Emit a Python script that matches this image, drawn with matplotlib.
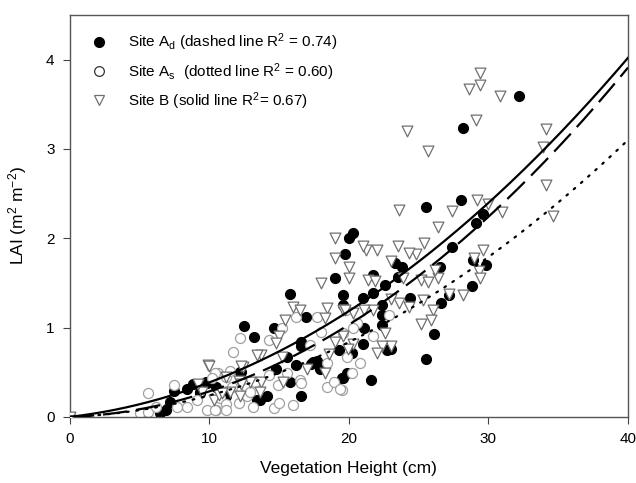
import numpy as np
import matplotlib
matplotlib.use("Agg")
import matplotlib.pyplot as plt
from matplotlib.lines import Line2D

plt.rcParams['font.family'] = ['Liberation Sans', 'DejaVu Sans']
plt.rcParams['mathtext.fontset'] = 'custom'
plt.rcParams['mathtext.rm'] = 'Liberation Sans'
plt.rcParams['mathtext.it'] = 'Liberation Sans'

# Site A_d (filled circles)
ad_x = [0, 32.2, 28.2, 25.5, 28.0, 29.6, 29.1, 27.4, 26.5, 29.8, 28.9, 28.8, 26.6, 27.2, 26.1, 25.5,
        24.4, 21.6, 23.8, 23.3, 23.5, 22.6, 21.7, 21.7, 21.0, 22.4, 22.4, 22.4, 21.1, 21.0, 20.2,
        22.7, 23.0, 20.3, 20.0, 19.7, 19.6, 19.6, 19.5, 19.0, 15.8, 12.5, 13.2, 14.6, 16.9, 16.6,
        16.6, 12.3, 9.75, 9.3, 14.8, 15.8, 15.6, 16.2, 16.6, 13.5, 13.6, 14.1, 17.4, 17.3, 17.7,
        17.9, 19.6, 19.9, 19.3, 8.8, 8.4, 7.5, 7.2, 6.9, 6.5, 9.8, 9.3, 10.5, 11.2, 13.4, 12.2]
ad_y = [0, 3.59, 3.24, 2.35, 2.43, 2.27, 2.17, 1.90, 1.68, 1.70, 1.76, 1.46, 1.28, 1.37, 0.93, 0.65,
        1.33, 0.41, 1.68, 1.72, 1.57, 1.48, 1.59, 1.39, 1.33, 1.25, 1.14, 1.03, 0.99, 0.82, 0.71,
        0.75, 0.76, 2.06, 2.00, 1.82, 1.37, 1.25, 0.43, 1.56, 1.38, 1.02, 0.89, 0.99, 1.12, 0.84,
        0.79, 0.50, 0.39, 0.28, 0.54, 0.39, 0.67, 0.58, 0.23, 0.19, 0.19, 0.23, 0.61, 0.59, 0.63,
        0.54, 0.43, 0.49, 0.75, 0.37, 0.31, 0.29, 0.17, 0.08, 0.04, 0.38, 0.27, 0.34, 0.23, 0.19, 0.50]

# Site A_s (open circles)
as_x = [0, 5.6, 7.5, 5.0, 5.6, 6.2, 7.7, 8.4, 9.1, 9.8, 10.5, 10.75, 10.6, 11.2, 11.6, 12.7, 13.1,
        12.7, 12.1, 11.2, 10.4, 11.2, 10.4, 11.5, 13.3, 12.9, 14.6, 15.0, 16.0, 14.9, 15.6, 16.5,
        16.6, 18.4, 18.9, 19.5, 18.4, 17.7, 16.2, 15.2, 14.3, 14.3, 12.2, 11.7, 10.2, 19.8, 19.6,
        19.35, 20.2, 20.8, 19.9, 21.7, 20.6, 22.9, 20.3, 17.2, 18.0]
as_y = [0, 0.27, 0.36, 0.04, 0.05, 0.11, 0.11, 0.11, 0.19, 0.08, 0.08, 0.21, 0.49, 0.45, 0.34, 0.32, 0.11,
        0.23, 0.16, 0.14, 0.08, 0.08, 0.49, 0.51, 0.39, 0.28, 0.10, 0.16, 0.13, 0.36, 0.49, 0.41,
        0.38, 0.34, 0.39, 0.30, 0.60, 1.12, 1.12, 0.99, 0.86, 0.47, 0.88, 0.73, 0.44, 1.20, 0.94,
        0.31, 0.49, 0.60, 0.67, 0.91, 1.05, 1.14, 0.99, 0.80, 0.95]

# Site B (open down-triangles)
b_x = [0, 29.4, 29.4, 28.6, 30.8, 29.1, 24.2, 25.7, 34.1, 33.9, 34.1, 34.6, 31.0, 29.96, 29.2, 27.4,
       26.4, 23.6, 25.4, 24.8, 24.3, 23.5, 23.0, 22.0, 21.25, 21.0, 20.0, 20.0, 21.4, 21.9, 23.9,
       25.2, 25.7, 26.4, 26.2, 29.6, 29.3, 29.4, 29.0, 28.2, 27.2, 26.0, 25.9, 25.2, 25.3, 24.3,
       23.6, 23.0, 23.0, 22.4, 22.0, 22.6, 21.7, 21.1, 20.3, 19.6, 19.6, 20.3, 19.95, 19.0, 19.0,
       18.0, 16.0, 16.5, 15.4, 18.4, 18.3, 19.7, 19.0, 18.6, 18.3, 17.0, 15.2, 15.3, 13.7, 15.0,
       14.8, 12.4, 9.9, 11.2, 12.1, 12.9, 13.7, 13.6, 12.2, 11.5, 10.3, 10.7, 9.5, 10.0, 9.2, 10.9,
       12.3, 12.3, 13.4]
b_y = [0, 3.85, 3.72, 3.67, 3.59, 3.32, 3.20, 2.98, 3.22, 3.02, 2.60, 2.25, 2.29, 2.38, 2.43, 2.30,
       2.13, 2.32, 1.95, 1.82, 1.83, 1.91, 1.75, 1.87, 1.87, 1.91, 1.68, 1.55, 1.53, 1.52, 1.55,
       1.53, 1.51, 1.56, 1.65, 1.87, 1.63, 1.55, 1.78, 1.37, 1.38, 1.20, 1.09, 1.04, 1.31, 1.23,
       1.27, 1.32, 0.79, 0.79, 0.71, 0.94, 1.20, 1.20, 1.16, 1.20, 0.90, 0.82, 0.76, 2.00, 1.78,
       1.50, 1.23, 1.20, 1.08, 1.22, 1.11, 1.20, 0.84, 0.70, 0.49, 0.54, 0.67, 0.39, 0.69, 0.90,
       0.83, 0.56, 0.58, 0.45, 0.40, 0.39, 0.39, 0.28, 0.23, 0.28, 0.19, 0.25, 0.28, 0.57, 0.37, 0.27,
       0.57, 0.37, 0.69]

# Regression fits: LAI = c1*h + c2*h^2
fit_ad = [0.00545, 0.002308]
fit_as = [0.00618, 0.001783]
fit_b = [0.01794, 0.002064]

legend_labels = [r'Site A$_\mathrm{d}$ (dashed line R$^2$ = 0.74)',
                 r'Site A$_\mathrm{s}$  (dotted line R$^2$ = 0.60)',
                 r'Site B (solid line R$^2$= 0.67)']

fig = plt.figure(figsize=(6.36, 4.83), dpi=100)
ax = fig.add_axes([0.1097, 0.1369, 0.8777, 0.8321])

ms = 52
ax.scatter(ad_x, ad_y, s=ms, marker='o', facecolor='black', edgecolor='black', linewidths=0.8, zorder=2)
ax.scatter(as_x, as_y, s=ms, marker='o', facecolor='white', edgecolor='#a0a0a0', linewidths=0.9, zorder=2)
ax.scatter(b_x, b_y, s=60, marker='v', facecolor='white', edgecolor='#707070', linewidths=0.9, zorder=3)

h = np.linspace(0, 40, 300)
ax.plot(h, fit_b[0]*h + fit_b[1]*h**2, color='black', lw=1.6, zorder=4)
ax.plot(h, fit_ad[0]*h + fit_ad[1]*h**2, color='black', lw=1.6, dashes=(11, 4), zorder=4)
ax.plot(h, fit_as[0]*h + fit_as[1]*h**2, color='black', lw=1.6, dashes=(0.8, 3.5),
        dash_capstyle='round', zorder=4)

ax.set_xlim(0, 40)
ax.set_ylim(0, 4.5)
ax.set_xticks([0, 10, 20, 30, 40])
ax.set_yticks([0, 1, 2, 3, 4])
ax.tick_params(direction='out', length=5, width=0.8, labelsize=11, colors='#444444',
               labelcolor='black', pad=6)
for sp in ax.spines.values():
    sp.set_color('#555555')
    sp.set_linewidth(1.0)

ax.set_xlabel('Vegetation Height (cm)', fontsize=12.5, labelpad=11)
ax.set_ylabel(r'LAI (m$^2$ m$^{-2}$)', fontsize=12.5, labelpad=12)

handles = [Line2D([], [], ls='none', marker='o', ms=7, mfc='black', mec='black'),
           Line2D([], [], ls='none', marker='o', ms=7, mfc='white', mec='#333333', mew=0.9),
           Line2D([], [], ls='none', marker='v', ms=7.5, mfc='white', mec='#707070', mew=0.9)]
ax.legend(handles, legend_labels, loc='upper left', bbox_to_anchor=(0.005, 0.985), frameon=False,
          fontsize=11, handletextpad=0.9, labelspacing=0.5, borderaxespad=0.3)

fig.savefig('out.png', dpi=100)
